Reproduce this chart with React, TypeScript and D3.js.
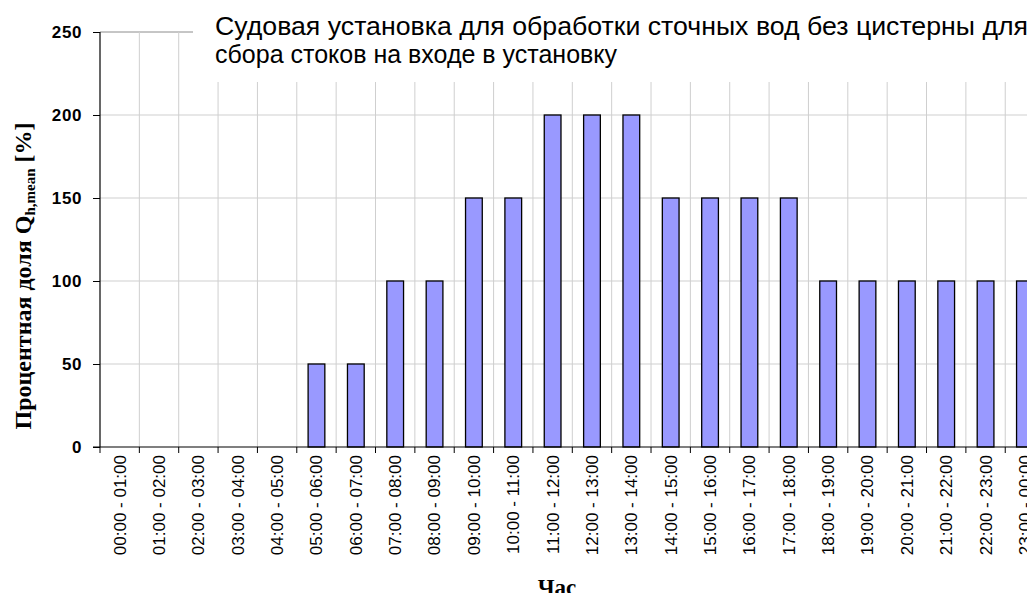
import * as d3 from "d3"
import { useRef, useEffect } from "react"

const hours = [
  "00:00 - 01:00", "01:00 - 02:00", "02:00 - 03:00", "03:00 - 04:00",
  "04:00 - 05:00", "05:00 - 06:00", "06:00 - 07:00", "07:00 - 08:00",
  "08:00 - 09:00", "09:00 - 10:00", "10:00 - 11:00", "11:00 - 12:00",
  "12:00 - 13:00", "13:00 - 14:00", "14:00 - 15:00", "15:00 - 16:00",
  "16:00 - 17:00", "17:00 - 18:00", "18:00 - 19:00", "19:00 - 20:00",
  "20:00 - 21:00", "21:00 - 22:00", "22:00 - 23:00", "23:00 - 00:00",
]
const shares = [0, 0, 0, 0, 0, 50, 50, 100, 100, 150, 150, 200, 200, 200, 150, 150, 150, 150, 100, 100, 100, 100, 100, 100]
const yTicks = [0, 50, 100, 150, 200, 250]
const legendLines = [
  "Судовая установка для обработки сточных вод без цистерны для",
  "сбора стоков на входе в установку",
]

export default function App() {
  const svgRef = useRef<SVGSVGElement>(null)

  useEffect(() => {
    if (!svgRef.current) return
    const width = 1035
    const height = 601
    const margin = { top: 32, left: 100, bottom: 154 }
    const plotRight = 1044.6

    const svg = d3.select(svgRef.current)
    svg.selectAll("*").remove()
    svg.attr("width", width).attr("height", height).style("display", "block")

    const x = d3.scaleBand().domain(hours).range([margin.left, plotRight]).paddingInner(0).paddingOuter(0)
    const y = d3.scaleLinear().domain([0, 250]).range([height - margin.bottom, margin.top])

    const barW = x.bandwidth() * 0.425
    const sans = "Arial, 'Liberation Sans', sans-serif"
    const serif = "'Liberation Serif', 'Times New Roman', serif"

    // horizontal grid
    svg.append("g")
      .selectAll("line")
      .data(yTicks.filter((t) => t > 0))
      .enter()
      .append("line")
      .attr("x1", margin.left)
      .attr("x2", plotRight)
      .attr("y1", (d) => y(d))
      .attr("y2", (d) => y(d))
      .attr("stroke", (d) => (d === 250 ? "#8c8c8c" : "#cfcfcf"))
      .attr("stroke-width", 1)

    // vertical grid
    svg.append("g")
      .selectAll("line")
      .data(hours.slice(1))
      .enter()
      .append("line")
      .attr("x1", (d) => x(d) || 0)
      .attr("x2", (d) => x(d) || 0)
      .attr("y1", y(250))
      .attr("y2", y(0))
      .attr("stroke", "#cfcfcf")
      .attr("stroke-width", 1)

    // bars
    svg.append("g")
      .selectAll("rect")
      .data(shares.map((v, i) => ({ h: hours[i], v })).filter((d) => d.v > 0))
      .enter()
      .append("rect")
      .attr("x", (d) => (x(d.h) || 0) + (x.bandwidth() - barW) / 2)
      .attr("y", (d) => y(d.v))
      .attr("width", barW)
      .attr("height", (d) => y(0) - y(d.v))
      .attr("fill", "#9999FF")
      .attr("stroke", "#000")
      .attr("stroke-width", 1.3)

    // legend box covering the top
    svg.append("rect")
      .attr("x", 193)
      .attr("y", 0)
      .attr("width", width - 193)
      .attr("height", 82)
      .attr("fill", "#fff")

    svg.append("g")
      .selectAll("text")
      .data(legendLines)
      .enter()
      .append("text")
      .attr("x", 215)
      .attr("y", (_, i) => 35 + i * 28)
      .style("font-family", sans)
      .style("font-size", "25px")
      .attr("fill", "#000")
      .attr("textLength", (_, i) => (i === 0 ? 813 : null))
      .attr("lengthAdjust", "spacingAndGlyphs")
      .text((d) => d)

    // y axis
    svg.append("g")
      .attr("transform", `translate(${margin.left},0)`)
      .call(d3.axisLeft(y).tickValues(yTicks).tickSize(7).tickPadding(11))
      .call((g) => g.select(".domain").attr("stroke", "#000").attr("stroke-width", 1.2).attr("d", `M0,${y(250)}V${y(0)}`))
      .call((g) => g.selectAll("line").attr("stroke", "#000"))
      .call((g) =>
        g.selectAll("text")
          .style("font-family", sans)
          .style("font-size", "17px")
          .style("font-weight", "bold")
          .style("letter-spacing", "0.6px")
          .attr("fill", "#000"),
      )

    // x axis
    const xAxis = svg.append("g").attr("transform", `translate(0,${y(0)})`)
    xAxis.append("line")
      .attr("x1", margin.left - 7)
      .attr("x2", plotRight)
      .attr("stroke", "#000")
      .attr("stroke-width", 1.2)
    xAxis.selectAll(".tick")
      .data(hours)
      .enter()
      .append("line")
      .attr("x1", (d) => x(d) || 0)
      .attr("x2", (d) => x(d) || 0)
      .attr("y1", 0)
      .attr("y2", 6)
      .attr("stroke", "#000")
    xAxis.selectAll("text")
      .data(hours)
      .enter()
      .append("text")
      .attr("transform", (d) => `translate(${(x(d) || 0) + x.bandwidth() / 2},8) rotate(-90)`)
      .attr("text-anchor", "end")
      .attr("dy", "0.35em")
      .style("font-family", sans)
      .style("font-size", "17px")
      .attr("fill", "#000")
      .text((d) => d)

    // x title
    svg.append("text")
      .attr("x", 557)
      .attr("y", 595)
      .attr("text-anchor", "middle")
      .style("font-family", serif)
      .style("font-size", "23px")
      .style("font-weight", "bold")
      .text("Час")

    // y title
    const yTitle = svg.append("text")
      .attr("transform", `translate(31,276) rotate(-90)`)
      .attr("text-anchor", "middle")
      .style("font-family", serif)
      .style("font-size", "24px")
      .style("font-weight", "bold")
    yTitle.append("tspan").text("Процентная доля Q")
    yTitle.append("tspan").attr("dy", 4).style("font-size", "15px").text("h,mean")
    yTitle.append("tspan").attr("dy", -4).text(" [%]")
  }, [])

  return (
    <div style={{ margin: -8 }}>
      <svg ref={svgRef}></svg>
    </div>
  )
}
